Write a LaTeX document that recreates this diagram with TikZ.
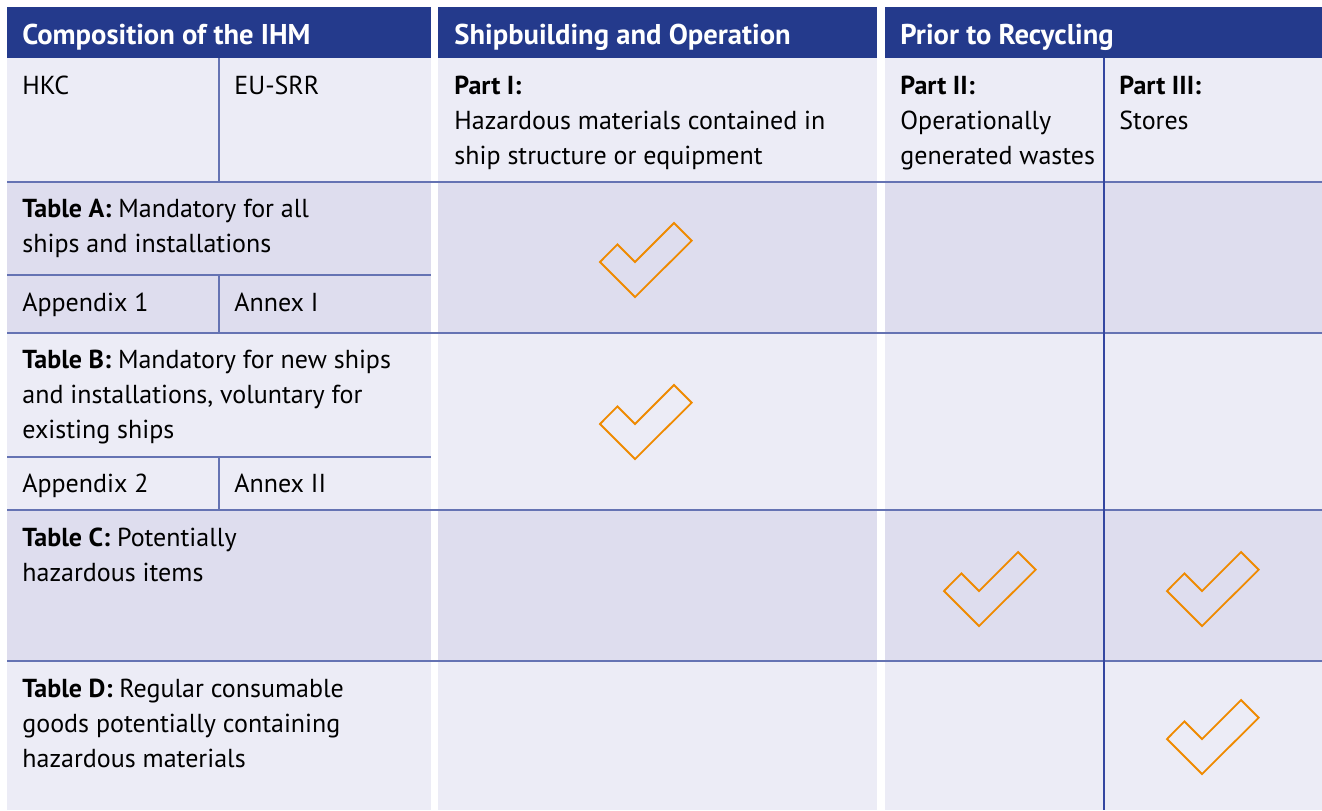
\documentclass[tikz,border=0pt]{standalone}
\usepackage{fontspec}
\setmainfont{PT Sans}
\usetikzlibrary{calc}

\definecolor{hdblue}{HTML}{243A8C}
\definecolor{rowlight}{HTML}{ECECF6}
\definecolor{rowdark}{HTML}{DEDDEE}
\definecolor{gridline}{HTML}{6573B3}
\definecolor{vline}{HTML}{3446A0}
\definecolor{tickorange}{HTML}{EF8A00}

% multi-line nodes sit on the baseline of their last line
\tikzset{
  txt/.style={anchor=base west, inner sep=0pt, align=left, font=\fontsize{13}{17.5}\selectfont},
  hd/.style={txt, text=white, font=\fontsize{14.3}{17.5}\selectfont\bfseries},
  chk/.pic={\draw[tickorange, line width=0.9pt, line join=miter]
    (0,0) -- (-35,-35) -- (-17.6,-52.6) -- (0,-35) -- (39,-74) -- (56.7,-56.3) -- cycle;}
}

\begin{document}
\begin{tikzpicture}[x=0.5pt,y=-0.5pt]
\useasboundingbox[fill=white] (0,0) rectangle (1322,810);

% headers
\fill[hdblue] (7,7) rectangle (431,58);
\fill[hdblue] (438,7) rectangle (877,58);
\fill[hdblue] (885,7) rectangle (1322,58);

% row backgrounds
\foreach \xa/\xb in {7/431,438/877,885/1322}{
  \fill[rowlight] (\xa,58) rectangle (\xb,182);
  \fill[rowdark] (\xa,182) rectangle (\xb,333);
  \fill[rowlight] (\xa,333) rectangle (\xb,510);
  \fill[rowdark] (\xa,510) rectangle (\xb,661);
  \fill[rowlight] (\xa,661) rectangle (\xb,810);
}

% grid
\foreach \y in {182,333,510,661}
  \draw[gridline, line width=0.6pt] (7,\y) -- (1322,\y);
\draw[gridline, line width=0.6pt] (7,275) -- (431,275);
\draw[gridline, line width=0.6pt] (7,457) -- (431,457);
\draw[gridline, line width=0.6pt] (219,58) -- (219,182);
\draw[gridline, line width=0.6pt] (219,275) -- (219,333);
\draw[gridline, line width=0.6pt] (219,457) -- (219,510);
\draw[vline, line width=0.6pt] (1104,58) -- (1104,810);

% header text
\node[hd] (hdcomp) at (22,44) {Composition of the IHM};
\node[hd] (hdship) at (454,44) {Shipbuilding and Operation};
\node[hd] (hdprior) at (900,44) {Prior to Recycling};

% first row
\node[txt] (hkc) at (22,94) {HKC};
\node[txt] (eusrr) at (234,94) {EU-SRR};
\node[txt] (partI) at (454,164) {\textbf{Part I:}\\Hazardous materials contained in\\ship structure or equipment};
\node[txt] (partII) at (900,164) {\textbf{Part II:}\\Operationally\\generated wastes};
\node[txt] (partIII) at (1119,129) {\textbf{Part III:}\\Stores};

% tables
\node[txt] (tabA) at (22,252) {\textbf{Table A:} Mandatory for all\\ships and installations};
\node[txt] (appI) at (22,311) {Appendix 1};
\node[txt] (annI) at (234,311) {Annex I};
\node[txt] (tabB) at (22,438) {\textbf{Table B:} Mandatory for new ships\\and installations, voluntary for\\existing ships};
\node[txt] (appII) at (22,492) {Appendix 2};
\node[txt] (annII) at (234,492) {Annex II};
\node[txt] (tabC) at (22,581) {\textbf{Table C:} Potentially\\hazardous items};
\node[txt] (tabD) at (22,767) {\textbf{Table D:} Regular consumable\\goods potentially containing\\hazardous materials};

% ticks
\pic at (635,297) {chk};
\pic at (635,459) {chk};
\pic at (979,626) {chk};
\pic at (1202,626) {chk};
\pic at (1202,774) {chk};
\end{tikzpicture}
\end{document}
